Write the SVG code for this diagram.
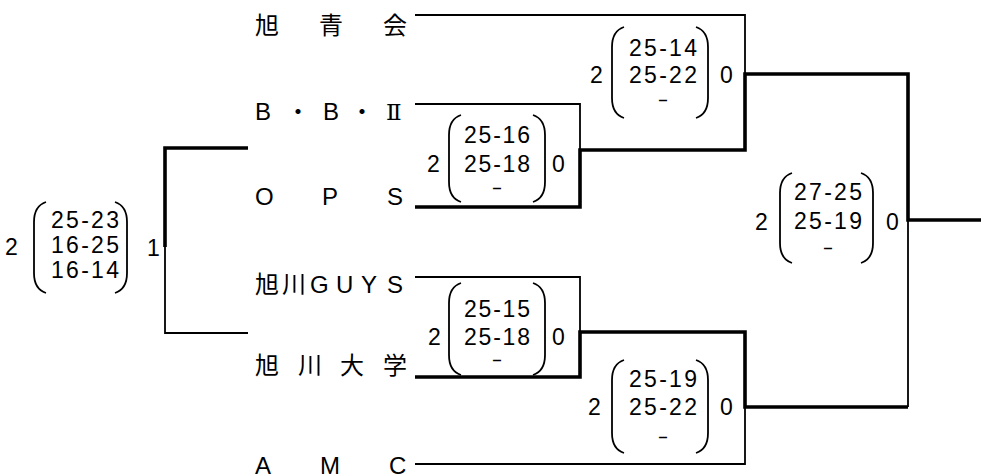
<svg xmlns="http://www.w3.org/2000/svg" width="981" height="475" viewBox="0 0 981 475">
<style>
.bg{fill:#fff}
.name{font-family:"Liberation Sans","Noto Sans CJK JP",sans-serif;font-size:24px;fill:#000}
.rn{font-family:"DejaVu Serif","Noto Serif CJK JP","Noto Sans CJK JP",serif}
.sc{font-family:"Liberation Sans","Noto Sans CJK JP",sans-serif;font-size:23px;fill:#000}
.row{text-anchor:middle}
.dash{font-family:"Liberation Sans",sans-serif;font-size:18px;fill:#000;text-anchor:middle}
.thin{fill:none;stroke:#000;stroke-width:1.8}
.thick{fill:none;stroke:#000;stroke-width:3.6}
.par{fill:none;stroke:#000;stroke-width:1.8}
</style>
<rect class="bg" x="0" y="0" width="981" height="475"/>
<g id="connectors">
<path class="thick" d="M248,148 H165 V247"/>
<path class="thin" d="M165,247 V333 H248"/>
<path class="thin" d="M415,15 H745 V74"/>
<path class="thin" d="M415,104 H580 V150"/>
<path class="thick" d="M415,207 H580 V150 H745 V74 H908 V220 H981"/>
<path class="thin" d="M908,220 V407"/>
<path class="thin" d="M415,277 H580 V332"/>
<path class="thick" d="M415,377 H580 V332 H745 V407 H908"/>
<path class="thin" d="M745,407 V464 H415"/>
</g>
<g id="team-asahi-seikai"><text class="name" x="255 319 383" y="34">旭青会</text></g>
<g id="team-bb2"><text class="name" x="255 286 323 350" y="120">B・B・<tspan class="rn" x="386" font-size="23">Ⅱ</tspan></text></g>
<g id="team-ops"><text class="name" x="255 322 387" y="205">OPS</text></g>
<g id="team-guys"><text class="name" x="255 282 310 336 361 387" y="293">旭川GUYS</text></g>
<g id="team-asahikawa-univ"><text class="name" x="255 298 340 383" y="374">旭川大学</text></g>
<g id="team-amc"><text class="name" x="255 320 389" y="474">AMC</text></g>
<g id="score-left">
<text class="sc" x="5" y="255">2</text>
<path class="par" d="M46,202 C37,205 34,212 34,222 L34,273 C34,283 37,290 46,293"/>
<path class="par" d="M115,202 C124,205 127,212 127,222 L127,273 C127,283 124,290 115,293"/>
<text class="sc row" x="85" y="228" textLength="68">25-23</text>
<text class="sc row" x="85" y="253" textLength="68">16-25</text>
<text class="sc row" x="85" y="278" textLength="68">16-14</text>
<text class="sc" x="147" y="256">1</text>
</g>
<g id="score-bb2-ops">
<text class="sc" x="427" y="172">2</text>
<path class="par" d="M461,115 C452,118 449,125 449,135 L449,182 C449,192 452,199 461,202"/>
<path class="par" d="M533,115 C542,118 545,125 545,135 L545,182 C545,192 542,199 533,202"/>
<text class="sc row" x="497" y="143" textLength="66">25-16</text>
<text class="sc row" x="497" y="172" textLength="66">25-18</text>
<text class="dash" x="497" y="194" textLength="11" lengthAdjust="spacingAndGlyphs">-</text>
<text class="sc" x="552" y="172">0</text>
</g>
<g id="score-guys-univ">
<text class="sc" x="428" y="345">2</text>
<path class="par" d="M461,283 C452,286 449,293 449,303 L449,355 C449,365 452,372 461,375"/>
<path class="par" d="M533,283 C542,286 545,293 545,303 L545,355 C545,365 542,372 533,375"/>
<text class="sc row" x="497" y="317" textLength="66">25-15</text>
<text class="sc row" x="497" y="345" textLength="66">25-18</text>
<text class="dash" x="497" y="366" textLength="11" lengthAdjust="spacingAndGlyphs">-</text>
<text class="sc" x="552" y="345">0</text>
</g>
<g id="score-semi-top">
<text class="sc" x="590" y="83">2</text>
<path class="par" d="M624,27 C615,30 612,37 612,47 L612,98 C612,108 615,115 624,118"/>
<path class="par" d="M696,27 C705,30 708,37 708,47 L708,98 C708,108 705,115 696,118"/>
<text class="sc row" x="663" y="56" textLength="68">25-14</text>
<text class="sc row" x="663" y="83" textLength="68">25-22</text>
<text class="dash" x="663" y="106" textLength="11" lengthAdjust="spacingAndGlyphs">-</text>
<text class="sc" x="720" y="83">0</text>
</g>
<g id="score-semi-bottom">
<text class="sc" x="588" y="415">2</text>
<path class="par" d="M624,360 C615,363 612,370 612,380 L612,433 C612,443 615,450 624,453"/>
<path class="par" d="M696,360 C705,363 708,370 708,380 L708,433 C708,443 705,450 696,453"/>
<text class="sc row" x="663" y="387" textLength="68">25-19</text>
<text class="sc row" x="663" y="415" textLength="68">25-22</text>
<text class="dash" x="663" y="443" textLength="11" lengthAdjust="spacingAndGlyphs">-</text>
<text class="sc" x="720" y="415">0</text>
</g>
<g id="score-final">
<text class="sc" x="755" y="230">2</text>
<path class="par" d="M792,173 C783,176 780,183 780,193 L780,243 C780,253 783,260 792,263"/>
<path class="par" d="M861,173 C870,176 873,183 873,193 L873,243 C873,253 870,260 861,263"/>
<text class="sc row" x="828" y="200" textLength="68">27-25</text>
<text class="sc row" x="828" y="229" textLength="68">25-19</text>
<text class="dash" x="828" y="254" textLength="11" lengthAdjust="spacingAndGlyphs">-</text>
<text class="sc" x="886" y="230">0</text>
</g>
</svg>
